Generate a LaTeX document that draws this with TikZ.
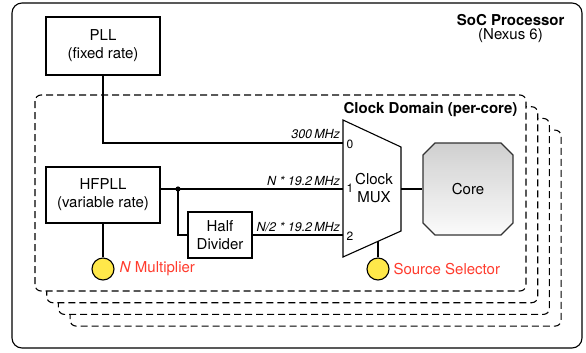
\documentclass[tikz,border=0pt]{standalone}
\usepackage{fontspec}
\setmainfont{TeX Gyre Heros}
\definecolor{selred}{RGB}{255,59,45}
\definecolor{knobyellow}{RGB}{255,232,74}
\begin{document}
\begin{tikzpicture}[x=1bp,y=-1bp,line width=1.1bp,
  mainfont/.style={font=\fontsize{15bp}{18bp}\selectfont},
  box/.style={draw,mainfont,align=center,inner sep=0pt,minimum width=114bp,minimum height=58bp},
  domainbox/.style={draw,dashed,dash pattern=on 7bp off 4bp,fill=white,rounded corners=6bp},
  knob/.style={draw,circle,fill=knobyellow,minimum size=22bp,inner sep=0pt},
  knoblabel/.style={mainfont,text=selred,anchor=west,inner sep=0pt},
  freq/.style={font=\fontsize{12.5bp}{14bp}\selectfont\itshape,anchor=base east,inner sep=0pt},
  port/.style={font=\fontsize{12bp}{14bp}\selectfont,anchor=west,inner sep=0pt}]
\useasboundingbox (0,0) rectangle (586,352);
% SoC outline
\draw[rounded corners=10bp] (12,3) rectangle (582,348);
\node[font=\fontsize{15bp}{18bp}\selectfont\bfseries,anchor=east,inner sep=0pt] (soc) at (565,20) {SoC Processor};
\node[mainfont,inner sep=0pt] (nexus) at (510.5,36) {(Nexus 6)};
% stacked clock domains
\foreach \k in {3,2,1,0}{
  \draw[domainbox] ({35+11.7*\k},{95+11.7*\k}) rectangle ({526+11.7*\k},{291+11.7*\k});
}
\node[font=\fontsize{15bp}{18bp}\selectfont\bfseries,anchor=east,inner sep=0pt] (cdlabel) at (518,110) {Clock Domain (per-core)};
% boxes
\node[box] (pll) at (103,46) {PLL\\(fixed rate)};
\node[box,minimum height=56bp] (hfpll) at (103,195) {HFPLL\\(variable rate)};
\node[box,minimum width=64bp,minimum height=46bp] (half) at (220,235) {Half\\Divider};
% mux
\draw (343,120) -- (401,147) -- (401,231) -- (343,257) -- cycle;
\coordinate (m0) at (343,143);
\coordinate (m1) at (343,189);
\coordinate (m2) at (343,235);
\coordinate (mo) at (401,189);
\coordinate (msel) at (378,241.3);
\node[mainfont,align=center,inner sep=0pt] (mux) at (374,188) {Clock\\MUX};
% core: chamfered box with vertical gradient
\begin{scope}
  \clip (423,155) -- (435,143) -- (501,143) -- (513,155) -- (513,223) -- (501,235) -- (435,235) -- (423,223) -- cycle;
  \foreach \i in {0,...,45}{
    \pgfmathtruncatemacro{\gv}{208+42*\i/45}
    \definecolor{stripcol}{RGB}{\gv,\gv,\gv}
    \fill[stripcol] (420,{142+2*\i}) rectangle (516,{144.2+2*\i});
  }
\end{scope}
\draw[line width=1.2bp,draw=black!80] (423,155) -- (435,143) -- (501,143) -- (513,155) -- (513,223) -- (501,235) -- (435,235) -- (423,223) -- cycle;
\node[mainfont,minimum width=90bp,minimum height=92bp,inner sep=0pt] (core) at (468,189) {Core};
% knobs
\node[knob] (nknob) at (103,269) {};
\node[knob] (sknob) at (378,269) {};
\node[knoblabel] (nlabel) at (119,269) {\textit{N} Multiplier};
\node[knoblabel] (slabel) at (393,269) {Source Selector};
% connectors
\coordinate (j) at (178,189);
\draw (pll.south) |- (m0);
\draw (hfpll.east |- m1) -- (m1);
\draw (j) |- (half.west);
\draw (half.east) -- (m2);
\draw (hfpll.south) -- (nknob.north);
\draw (msel) -- (sknob.north);
\draw (mo) -- (core.west);
\fill (j) circle (2.6bp);
% labels
\node[freq] (f0) at (340.5,138.5) {300\,MHz};
\node[freq] (f1) at (340.5,185) {N * 19.2\,MHz};
\node[freq] (f2) at (340.5,231) {N/2 * 19.2\,MHz};
\node[port] (p0) at (346,144) {0};
\node[port] (p1) at (346,188) {1};
\node[port] (p2) at (346,236) {2};
\end{tikzpicture}
\end{document}
